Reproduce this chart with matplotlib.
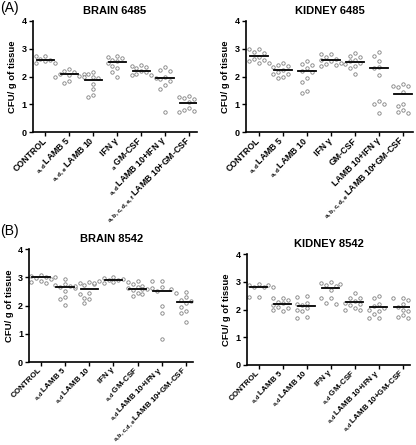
import numpy as np
import matplotlib
matplotlib.use('Agg')
import matplotlib.pyplot as plt

plt.rcParams['font.family'] = ['Liberation Sans', 'DejaVu Sans']
plt.rcParams['font.weight'] = 'bold'
plt.rcParams['mathtext.default'] = 'regular'

groups = ['CONTROL', 'LAMB 5', 'LAMB 10', 'IFN γ', 'GM-CSF', 'LAMB 10+IFN γ', 'LAMB 10+GM-CSF']

# letters in front of each label (statistical marks)
marks_brain_6485 = ['', 'a,d', 'a,d,e', '', 'a', 'a,d', 'a,b,c,d,e,f']
marks_kidney_6485 = ['', 'a,d', 'a,d', '', '', '', 'a,b,c,d,e']
marks_brain_8542 = ['', 'a,d', 'a,d', '', 'a,d', 'a,d', 'a,b,c,d,e']
marks_kidney_8542 = ['', 'a,d', 'a,d', '', 'a,d', 'a,d', 'a,d']

# values (log CFU / g of tissue)
brain_6485 = [
    [2.75, 2.75, 2.62, 2.58, 2.55, 2.50, 2.48, 2.47, 2.60],
    [2.28, 2.20, 2.15, 2.10, 2.05, 2.02, 2.00, 1.85, 1.78, 2.10],
    [2.18, 2.10, 2.00, 2.00, 1.95, 1.75, 1.55, 1.35, 1.27],
    [2.72, 2.68, 2.75, 2.60, 2.55, 2.50, 2.40, 2.30, 2.15, 2.00],
    [2.42, 2.40, 2.35, 2.30, 2.22, 2.15, 2.10, 2.05, 2.05],
    [2.33, 2.25, 2.20, 1.98, 1.95, 1.90, 1.85, 1.70, 1.55, 0.72],
    [1.32, 1.28, 1.22, 1.18, 1.10, 0.88, 0.80, 0.75, 0.72, 0.74],
]
kidney_6485 = [
    [3.00, 2.98, 2.87, 2.85, 2.72, 2.65, 2.60, 2.55, 2.50, 2.50],
    [2.48, 2.42, 2.40, 2.35, 2.25, 2.15, 2.10, 2.08, 1.95, 2.00],
    [2.55, 2.45, 2.42, 2.30, 2.20, 2.18, 1.95, 1.80, 1.48, 1.42],
    [2.82, 2.80, 2.72, 2.65, 2.60, 2.55, 2.50, 2.45, 2.42, 2.40],
    [2.85, 2.75, 2.72, 2.60, 2.55, 2.50, 2.45, 2.40, 2.30, 2.10],
    [2.88, 2.75, 2.55, 2.35, 2.30, 2.05, 1.12, 1.02, 1.00, 0.70],
    [1.72, 1.68, 1.65, 1.62, 1.45, 1.00, 0.95, 0.80, 0.72, 0.70],
]
brain_8542 = [
    [3.08, 3.05, 3.02, 3.00, 3.00, 2.98, 2.95, 2.85, 2.82, 2.80],
    [2.95, 2.75, 2.72, 2.68, 2.65, 2.62, 2.50, 2.30, 2.22, 2.02],
    [2.82, 2.80, 2.75, 2.72, 2.70, 2.45, 2.42, 2.28, 2.22, 2.08],
    [3.00, 2.98, 2.95, 2.92, 2.90, 2.85, 2.82, 2.80, 2.78, 2.82],
    [2.88, 2.75, 2.70, 2.65, 2.62, 2.58, 2.55, 2.45, 2.40, 2.35],
    [2.88, 2.85, 2.65, 2.62, 2.60, 2.58, 2.52, 2.00, 1.72, 0.80],
    [2.48, 2.45, 2.30, 2.20, 2.15, 2.08, 1.95, 1.82, 1.72, 1.42],
]
kidney_8542 = [
    [2.92, 2.90, 2.88, 2.85, 2.82, 2.80, 2.80, 2.78, 2.45, 2.45],
    [2.42, 2.40, 2.35, 2.28, 2.22, 2.18, 2.10, 2.05, 2.00, 1.95],
    [2.50, 2.45, 2.25, 2.20, 2.15, 2.05, 2.00, 1.95, 1.72, 1.70],
    [2.98, 2.95, 2.93, 2.90, 2.85, 2.70, 2.42, 2.40, 2.25, 2.20],
    [2.58, 2.42, 2.40, 2.32, 2.25, 2.20, 2.15, 2.05, 2.00, 1.98],
    [2.48, 2.40, 2.20, 2.12, 2.05, 2.00, 1.95, 1.85, 1.70, 1.68],
    [2.42, 2.40, 2.35, 2.20, 2.08, 2.00, 1.95, 1.80, 1.72, 1.68],
]

# group means (horizontal bars)
mean_brain_6485 = [2.59, 2.08, 1.89, 2.52, 2.22, 1.96, 1.06]
mean_kidney_6485 = [2.74, 2.23, 2.19, 2.60, 2.54, 2.32, 1.37]
mean_brain_8542 = [3.00, 2.64, 2.59, 2.89, 2.59, 2.53, 2.12]
mean_kidney_8542 = [2.81, 2.21, 2.13, 2.78, 2.27, 2.09, 2.09]


def swarm(vals, step=0.2, min_px=5.0, px_x=24.0, px_y=28.0):
    # simple beeswarm: put points beside each other when they would overlap
    order = np.argsort(vals)[::-1]
    placed = []
    offs = np.zeros(len(vals))
    cands = [0]
    for k in range(1, 6):
        cands += [-k * step, k * step]
    for i in order:
        for c in cands:
            ok = True
            for (px, py) in placed:
                if np.hypot((c - px) * px_x, (vals[i] - py) * px_y) < min_px:
                    ok = False
                    break
            if ok:
                offs[i] = c
                placed.append((c, vals[i]))
                break
    return offs


def panel(rect, data, means, marks, title, xlim, fs=6.3):
    ax = fig.add_axes(rect)
    for i, vals in enumerate(data):
        vals = np.array(vals)
        x = i + swarm(vals)
        ax.scatter(x, vals, s=6, facecolors='white', edgecolors='#808080',
                   linewidths=0.6, zorder=2)
        ax.plot([i - 0.36, i + 0.36], [means[i], means[i]], color='black',
                lw=1.3, zorder=3)
    ax.set_xlim(*xlim)
    ax.set_ylim(0, 4)
    ax.set_yticks([0, 1, 2, 3, 4])
    ax.set_xticks(range(len(groups)))
    labels = []
    for m, g in zip(marks, groups):
        if m:
            labels.append(r'$_{\mathregular{' + m + r'}}\,$' + g)
        else:
            labels.append(g)
    ax.set_xticklabels(labels, rotation=45, ha='right', va='center',
                       rotation_mode='anchor', fontsize=fs, fontweight='bold')
    for t in ax.get_yticklabels():
        t.set_fontsize(6.5)
        t.set_fontweight('bold')
    ax.tick_params(direction='out', length=3, width=1, pad=1.5)
    ax.tick_params(axis='x', pad=2)
    ax.spines['top'].set_visible(False)
    ax.spines['right'].set_visible(False)
    ax.spines['left'].set_linewidth(1.2)
    ax.spines['bottom'].set_linewidth(1.2)
    ax.set_ylabel('CFU/ g of tissue', fontsize=6.8, fontweight='bold', labelpad=3)
    ax.set_title(title, fontsize=8, fontweight='bold', pad=5)
    return ax


W, H = 416, 445
fig = plt.figure(figsize=(W / 100, H / 100), dpi=100)


def r(x0, x1, y_top, y_bot):
    return [x0 / W, 1 - y_bot / H, (x1 - x0) / W, (y_bot - y_top) / H]


panel(r(33, 197, 21, 132.3), brain_6485, mean_brain_6485, marks_brain_6485,
      'BRAIN 6485', (-0.51, 6.33))
panel(r(246, 413, 21, 132.3), kidney_6485, mean_kidney_6485, marks_kidney_6485,
      'KIDNEY 6485', (-0.54, 6.42))
panel(r(29.3, 193, 249, 362), brain_8542, mean_brain_8542, marks_brain_8542,
      'BRAIN 8542', (-0.48, 6.29), fs=5.8)
panel(r(247, 410, 254, 365), kidney_8542, mean_kidney_8542, marks_kidney_8542,
      'KIDNEY 8542', (-0.49, 6.30), fs=5.8)

fig.text(0.0, 1 - 8 / H, '(A)', fontsize=10, fontweight='normal', va='center')
fig.text(0.0, 1 - 231 / H, '(B)', fontsize=10, fontweight='normal', va='center')

fig.savefig('out.png', dpi=100)
